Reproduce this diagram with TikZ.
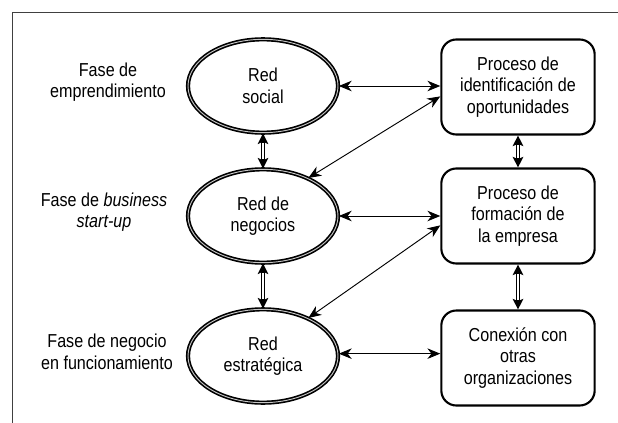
\documentclass[tikz,border=0pt]{standalone}
\usepackage{fontspec}
\setmainfont[FakeStretch=0.86]{Liberation Sans}
\usetikzlibrary{arrows.meta,shapes.geometric}

\begin{document}
\begin{tikzpicture}[x=0.03cm,y=-0.03cm,
    every node/.style={font=\fontsize{16}{18.5}\selectfont,align=center},
    redes/.style={ellipse,draw,line width=1.4pt,double=gray!45,double distance=0.8pt,inner sep=0pt,minimum width=4.5cm,minimum height=2.8cm},
    proceso/.style={rectangle,rounded corners=0.45cm,draw,line width=1.8pt,inner sep=0pt,minimum width=4.6cm,minimum height=2.85cm},
    flecha/.style={{Stealth[length=11pt,width=9pt,inset=3.5pt]}-{Stealth[length=11pt,width=9pt,inset=3.5pt]},line width=0.8pt},
    doble/.style={{Stealth[length=9pt,width=9pt,inset=2pt]}-{Stealth[length=9pt,width=9pt,inset=2pt]},line width=2.6pt},
    hueco/.style={white,line width=0.9pt,shorten <=8pt,shorten >=8pt}]
                \useasboundingbox (0,0) rectangle (618,423);
                \draw[black!75,line width=0.7pt] (618,12) -- (12,12) -- (12,423);

                \node (fe) at (108,82) {Fase de\\emprendimiento};
                \node (fb) at (104,212) {Fase de \textit{business}\\\textit{start-up}};
                \node (fn) at (107,352) {Fase de negocio\\en funcionamiento};

                \node[redes] (rs) at (263,86) {Red\\social};
                \node[redes] (rn) at (263,216) {Red de\\negocios};
                \node[redes] (re) at (263,356) {Red\\estratégica};

                \node[proceso] (pi) at (518,87) {Proceso de\\identificación de\\oportunidades};
                \node[proceso] (pf) at (518,216) {Proceso de\\formación de\\la empresa};
                \node[proceso] (pc) at (518,358) {Conexión con\\otras\\organizaciones};

                \draw[flecha] (rs.east) -- (rs.east -| pi.west);
                \draw[flecha] (rn.40) -- ([yshift=-8pt]pi.west);
                \draw[flecha] (rn.east) -- (rn.east -| pf.west);
                \draw[flecha] (re.40) -- ([yshift=-8pt]pf.west);
                \draw[flecha] ([yshift=2pt]re.east) -- ([yshift=2pt]re.east -| pc.west);

                % flechas dobles verticales
                \draw[doble] (rs.south) -- (rn.north);
                \draw[hueco] (rs.south) -- (rn.north);
                \draw[doble] (rn.south) -- (re.north);
                \draw[hueco] (rn.south) -- (re.north);
                \draw[doble] (pi.south) -- (pf.north);
                \draw[hueco] (pi.south) -- (pf.north);
                \draw[doble] (pf.south) -- (pc.north);
                \draw[hueco] (pf.south) -- (pc.north);
\end{tikzpicture}
\end{document}
